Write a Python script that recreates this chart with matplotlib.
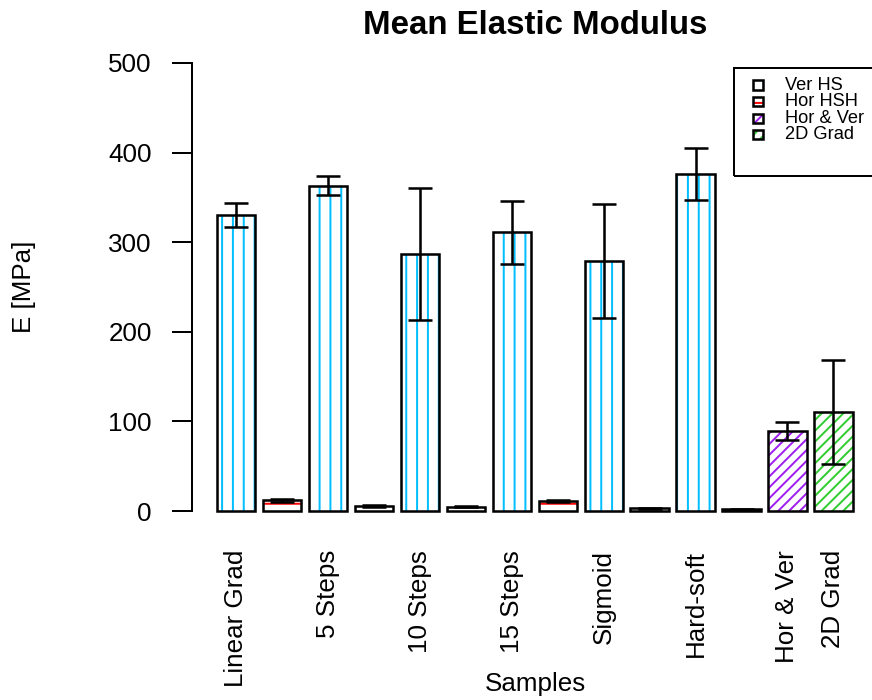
import numpy as np
import matplotlib.pyplot as plt
from matplotlib.patches import Rectangle

plt.rcParams['font.family'] = ['Liberation Sans', 'DejaVu Sans']
plt.rcParams['hatch.linewidth'] = 1.1

# data
ver_names = ["Linear Grad", "5 Steps", "10 Steps", "15 Steps", "Sigmoid", "Hard-soft"]
ver_mean = [330, 363, 287, 311, 279, 376]
ver_sd = [13.5, 10.5, 73.5, 35.5, 64, 29]
hor_mean = [12, 6, 5, 11, 3, 2]
hor_sd = [1.5, 1, 1, 1, 0.5, 0.5]
mix_names = ["Hor & Ver", "2D Grad"]
mix_mean = [89, 110.5]
mix_sd = [10, 58]

legend_labels = ["Ver HS", "Hor HSH", "Hor & Ver", "2D Grad"]
colors = ["#00BFFF", "red", "#A020F0", "#32CD32"]
hatches = ["||", "--", "////", "////"]

# interleave vertical / horizontal, then the two mixed ones
means, sds, cols, hts, names = [], [], [], [], []
for n, v, s, h, hs in zip(ver_names, ver_mean, ver_sd, hor_mean, hor_sd):
    means += [v, h]
    sds += [s, hs]
    cols += [colors[0], colors[1]]
    hts += [hatches[0], hatches[1]]
    names += [n, ""]
for k, (n, m, s) in enumerate(zip(mix_names, mix_mean, mix_sd)):
    means.append(m)
    sds.append(s)
    cols.append(colors[2 + k])
    hts.append(hatches[2 + k])
    names.append(n)

x = 0.7 + 1.2 * np.arange(len(means))  # barplot spacing, width 1, space 0.2

W, H, DPI = 872, 700, 130
fig = plt.figure(figsize=(W / DPI, H / DPI), dpi=DPI)
ax = fig.add_axes([191.5 / W, 1 - 529 / H, (878 - 191.5) / W, (529 - 45) / H])

for xi, m, c, h in zip(x, means, cols, hts):
    ax.bar(xi, m, width=1, color='none', edgecolor=c, hatch=h, linewidth=0)
    ax.bar(xi, m, width=1, fill=False, edgecolor='black', linewidth=1.4)

ax.errorbar(x, means, yerr=sds, fmt='none', ecolor='black', elinewidth=1.4,
            capsize=6.9, capthick=1.4)

ax.set_xlim(-0.464, 17.464)
ax.set_ylim(-20, 520)

tick_idx = [i for i, n in enumerate(names) if n]
ax.set_xticks(x[tick_idx])
ax.set_xticklabels([names[i] for i in tick_idx], rotation=90, va='top', fontsize=14.4)
ax.tick_params(axis='x', length=0, pad=11.6)

ax.set_yticks([0, 100, 200, 300, 400, 500])
ax.tick_params(axis='y', length=11, width=1.1, pad=11, labelsize=14.4)

for s in ['top', 'right', 'bottom']:
    ax.spines[s].set_visible(False)
ax.spines['left'].set_bounds(0, 500)
ax.spines['left'].set_linewidth(1.1)

fig.text(535 / W, 1 - 25 / H, "Mean Elastic Modulus", ha='center', va='center',
         fontsize=18.3, fontweight='bold')
fig.text(535 / W, 1 - 684 / H, "Samples", ha='center', va='center', fontsize=14.4)
fig.text(24 / W, 1 - 287 / H, "E [MPa]", ha='center', va='center', rotation=90,
         fontsize=14.4)

# legend drawn by hand, R style
fig.add_artist(Rectangle((734 / W, 1 - 176 / H), (880 - 734) / W, (176 - 68) / H,
                         transform=fig.transFigure, fill=False, edgecolor='black',
                         linewidth=1.1))
for i, (lab, c, h) in enumerate(zip(legend_labels, colors, hatches)):
    yc = 85 + 16.6 * i
    box = ((753 / W, 1 - (yc + 4.5) / H), 10 / W, 9 / H)
    fig.add_artist(Rectangle(*box, transform=fig.transFigure, facecolor='none',
                             edgecolor=c, hatch=h, linewidth=0))
    fig.add_artist(Rectangle(*box, transform=fig.transFigure, fill=False,
                             edgecolor='black', linewidth=1.4))
    fig.text(785 / W, 1 - yc / H, lab, ha='left', va='center', fontsize=10.1)

fig.savefig('out.png', dpi=DPI)
